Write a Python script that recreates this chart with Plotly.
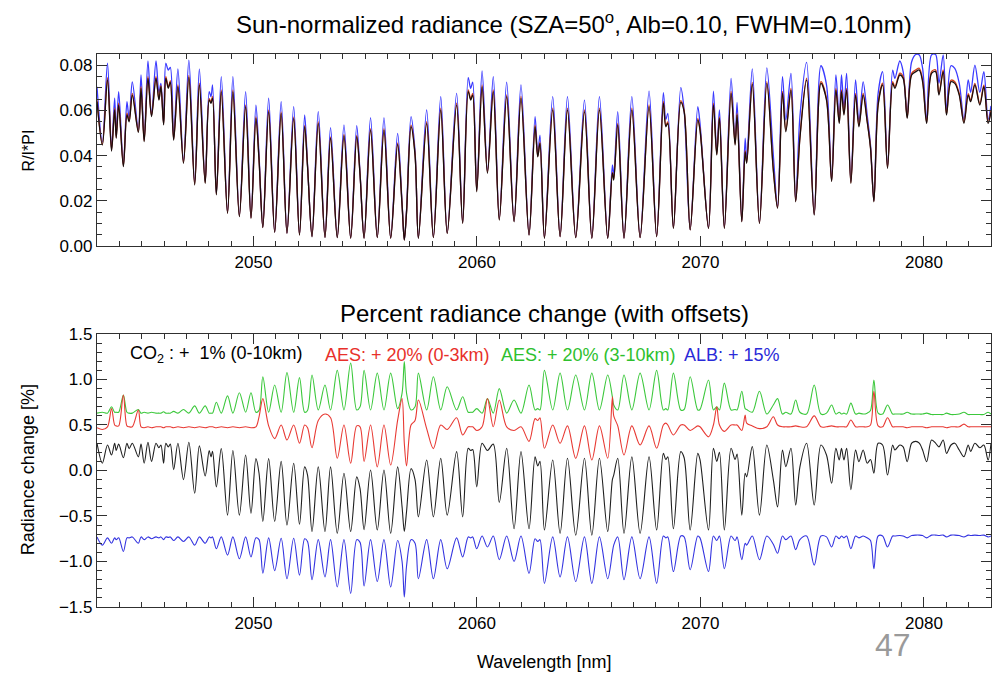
import plotly.graph_objects as go

# wavelength grid [nm], read at line centres, continuum maxima and small features
wavelength = [
    2043.00, 2043.24, 2043.47, 2043.65, 2043.79, 2043.86, 2043.97, 2044.18, 2044.34, 2044.44,
    2044.58, 2044.85, 2044.97, 2045.11, 2045.28, 2045.44, 2045.64, 2045.77, 2045.86, 2045.98,
    2046.08, 2046.19, 2046.28, 2046.43, 2046.62, 2046.87, 2047.11, 2047.37, 2047.58, 2047.84,
    2048.02, 2048.10, 2048.17, 2048.34, 2048.56, 2048.84, 2049.08, 2049.37, 2049.65, 2049.89,
    2050.11, 2050.25, 2050.42, 2050.68, 2050.95, 2051.24, 2051.50, 2051.80, 2052.06, 2052.29,
    2052.42, 2052.62, 2052.90, 2053.20, 2053.45, 2053.75, 2054.05, 2054.35, 2054.62, 2054.77,
    2054.95, 2055.24, 2055.54, 2055.84, 2056.14, 2056.45, 2056.65, 2056.75, 2056.85, 2057.05,
    2057.23, 2057.38, 2057.75, 2058.05, 2058.38, 2058.67, 2059.09, 2059.36, 2059.61, 2059.72,
    2059.81, 2059.99, 2060.23, 2060.47, 2060.73, 2061.00, 2061.33, 2061.66, 2061.97, 2062.33,
    2062.60, 2062.72, 2062.82, 2063.02, 2063.39, 2063.72, 2064.05, 2064.42, 2064.81, 2065.14,
    2065.48, 2065.85, 2066.06, 2066.12, 2066.30, 2066.58, 2066.93, 2067.30, 2067.70, 2068.04,
    2068.34, 2068.45, 2068.54, 2068.79, 2069.12, 2069.27, 2069.54, 2069.88, 2069.98, 2070.36,
    2070.58, 2070.73, 2070.85, 2071.07, 2071.37, 2071.55, 2071.64, 2071.85, 2072.00, 2072.07,
    2072.32, 2072.64, 2072.97, 2073.26, 2073.45, 2073.67, 2073.82, 2074.05, 2074.26, 2074.45,
    2074.75, 2075.09, 2075.39, 2075.64, 2075.87, 2076.06, 2076.21, 2076.31, 2076.42, 2076.54,
    2076.73, 2076.94, 2077.09, 2077.28, 2077.46, 2077.61, 2077.76, 2077.95, 2078.15, 2078.37,
    2078.60, 2078.70, 2078.92, 2079.07, 2079.25, 2079.45, 2079.64, 2079.79, 2079.94, 2080.12,
    2080.34, 2080.52, 2080.67, 2080.86, 2081.01, 2081.21, 2081.38, 2081.58, 2081.79, 2081.98,
    2082.09, 2082.28, 2082.50, 2082.68, 2082.87, 2083.00,
]

# top panel: sun-normalized radiance R/I*PI
rad_co2 = [
    .0639, .0447, .0735, .0420, .0602, .0477, .0624, .0351, .0580, .0550,
    .0668, .0503, .0698, .0462, .0742, .0573, .0742, .0646, .0705, .0536,
    .0742, .0698, .0725, .0469, .0705, .0366, .0747, .0270, .0713, .0277,
    .0646, .0632, .0654, .0226, .0683, .0144, .0683, .0130, .0617, .0122,
    .0565, .0381, .0081, .0595, .0060, .0587, .0056, .0565, .0048, .0528,
    .0351, .0041, .0543, .0037, .0477, .0037, .0488, .0034, .0484, .0314,
    .0034, .0513, .0037, .0513, .0034, .0450, .0180, .0026, .0150, .0528,
    .0403, .0034, .0543, .0037, .0602, .0056, .0624, .0100, .0683, .0646,
    .0668, .0240, .0705, .0322, .0683, .0115, .0661, .0107, .0654, .0048,
    .0528, .0395, .0454, .0034, .0602, .0041, .0602, .0037, .0595, .0034,
    .0602, .0034, .0322, .0292, .0536, .0034, .0602, .0037, .0617, .0041,
    .0632, .0528, .0543, .0078, .0636, .0595, .0071, .0558, .0513, .0078,
    .0624, .0403, .0565, .0078, .0676, .0447, .0580, .0107, .0417, .0366,
    .0716, .0100, .0720, .0336, .0167, .0676, .0506, .0690, .0196, .0477,
    .0735, .0137, .0720, .0646, .0285, .0690, .0543, .0683, .0580, .0690,
    .0277, .0668, .0528, .0668, .0550, .0432, .0196, .0624, .0713, .0344,
    .0720, .0698, .0757, .0742, .0565, .0757, .0772, .0779, .0727, .0543,
    .0764, .0772, .0668, .0772, .0580, .0727, .0720, .0668, .0543, .0668,
    .0639, .0713, .0624, .0705, .0543, .0595,
]
rad_aes = [
    .0645, .0450, .0745, .0425, .0610, .0480, .0632, .0355, .0588, .0555,
    .0676, .0507, .0706, .0466, .0750, .0577, .0750, .0650, .0710, .0540,
    .0750, .0703, .0732, .0472, .0713, .0369, .0755, .0273, .0721, .0280,
    .0652, .0637, .0662, .0229, .0691, .0146, .0691, .0132, .0625, .0124,
    .0572, .0384, .0082, .0602, .0061, .0594, .0057, .0572, .0049, .0534,
    .0354, .0042, .0550, .0038, .0483, .0038, .0494, .0035, .0490, .0317,
    .0035, .0520, .0038, .0520, .0035, .0456, .0183, .0027, .0152, .0535,
    .0408, .0035, .0550, .0038, .0610, .0057, .0632, .0101, .0691, .0652,
    .0676, .0243, .0713, .0326, .0691, .0117, .0669, .0109, .0662, .0049,
    .0535, .0398, .0460, .0035, .0610, .0042, .0610, .0038, .0603, .0035,
    .0610, .0035, .0326, .0296, .0543, .0035, .0610, .0038, .0625, .0042,
    .0640, .0533, .0549, .0079, .0644, .0600, .0072, .0565, .0518, .0079,
    .0632, .0407, .0572, .0079, .0684, .0451, .0587, .0108, .0422, .0370,
    .0724, .0101, .0728, .0340, .0169, .0684, .0512, .0698, .0198, .0482,
    .0743, .0139, .0728, .0652, .0288, .0698, .0548, .0691, .0585, .0698,
    .0280, .0676, .0533, .0676, .0555, .0436, .0198, .0630, .0721, .0347,
    .0728, .0705, .0765, .0750, .0570, .0765, .0780, .0787, .0734, .0548,
    .0772, .0780, .0674, .0780, .0585, .0734, .0727, .0674, .0548, .0675,
    .0645, .0720, .0630, .0712, .0548, .0601,
]
rad_alb = [
    .0705, .0460, .0809, .0430, .0654, .0490, .0683, .0360, .0639, .0560,
    .0727, .0515, .0757, .0470, .0819, .0580, .0819, .0680, .0720, .0545,
    .0809, .0779, .0791, .0480, .0784, .0375, .0823, .0280, .0784, .0285,
    .0683, .0661, .0713, .0232, .0750, .0148, .0750, .0134, .0683, .0126,
    .0624, .0403, .0084, .0654, .0062, .0639, .0058, .0617, .0050, .0580,
    .0360, .0043, .0595, .0039, .0524, .0039, .0536, .0036, .0533, .0322,
    .0036, .0568, .0039, .0568, .0036, .0499, .0190, .0028, .0160, .0573,
    .0420, .0036, .0602, .0039, .0661, .0058, .0676, .0103, .0745, .0698,
    .0725, .0248, .0775, .0330, .0750, .0120, .0725, .0111, .0713, .0050,
    .0573, .0405, .0491, .0036, .0661, .0043, .0661, .0039, .0646, .0036,
    .0661, .0036, .0359, .0310, .0595, .0036, .0661, .0039, .0686, .0043,
    .0679, .0560, .0587, .0080, .0701, .0602, .0073, .0617, .0543, .0080,
    .0686, .0415, .0602, .0080, .0742, .0460, .0636, .0110, .0477, .0380,
    .0784, .0103, .0789, .0403, .0172, .0750, .0558, .0764, .0200, .0573,
    .0813, .0141, .0798, .0713, .0292, .0757, .0560, .0757, .0610, .0764,
    .0285, .0735, .0550, .0727, .0580, .0447, .0200, .0676, .0772, .0352,
    .0779, .0742, .0819, .0772, .0580, .0816, .0848, .0846, .0786, .0560,
    .0846, .0848, .0720, .0846, .0600, .0798, .0786, .0720, .0560, .0735,
    .0680, .0801, .0680, .0772, .0560, .0620,
]

# bottom panel: percent radiance change (with offsets)
chg_aes_high = [
    .63, .64, .63, .70, .64, .64, .64, .83, .64, .63,
    .63, .67, .63, .64, .63, .64, .63, .63, .63, .645,
    .63, .63, .63, .65, .63, .67, .63, .71, .63, .71,
    .63, .63, .63, .75, .63, .82, .63, .855, .64, .855,
    .64, .66, 1.03, .64, .94, .64, 1.075, .64, 1.02, .64,
    .66, 1.05, .665, .94, .665, 1.10, .665, 1.18, .665, .70,
    1.10, .665, 1.07, .665, 1.07, .68, .85, 1.196, .85, .665,
    .70, 1.07, .665, 1.03, .665, .92, .665, .81, .64, .64,
    .64, .68, .63, .79, .63, .90, .63, .775, .63, .94,
    .665, .68, .665, 1.10, .665, 1.07, .665, 1.05, .665, 1.07,
    .665, 1.05, .81, .72, .665, 1.05, .665, 1.07, .665, 1.10,
    .665, .68, .665, 1.07, .665, .67, 1.03, .665, .67, .995,
    .665, .70, .665, .96, .665, .67, .665, .87, .68, .67,
    .64, .87, .62, .72, .79, .62, .64, .62, .775, .64,
    .62, .94, .62, .63, .72, .62, .64, .62, .63, .62,
    .74, .62, .63, .62, .63, .66, .995, .63, .62, .72,
    .62, .62, .62, .62, .64, .62, .62, .62, .62, .63,
    .615, .615, .615, .615, .63, .615, .615, .62, .64, .615,
    .615, .615, .615, .615, .64, .62,
]
chg_aes_low = [
    .47, .45, .48, .68, .50, .49, .49, .83, .49, .48,
    .48, .665, .48, .47, .48, .47, .48, .48, .48, .47,
    .48, .48, .48, .47, .48, .47, .48, .47, .48, .47,
    .48, .48, .48, .47, .48, .47, .48, .47, .48, .47,
    .48, .59, .79, .49, .35, .50, .335, .50, .30, .50,
    .47, .25, .55, .62, .58, .134, .50, .08, .49, .48,
    .10, .50, .04, .50, .06, .55, .79, .30, .05, .50,
    .55, .775, .46, .24, .50, .45, .58, .39, .48, .48,
    .48, .44, .48, .79, .48, .775, .48, .44, .48, .32,
    .57, .55, .58, .244, .50, .30, .49, .134, .49, .115,
    .49, .134, .81, .60, .49, .17, .49, .28, .49, .244,
    .50, .52, .50, .39, .50, .50, .44, .49, .48, .37,
    .50, .70, .50, .43, .50, .50, .50, .44, .61, .52,
    .49, .46, .48, .59, .50, .48, .48, .48, .49, .48,
    .48, .60, .48, .48, .49, .48, .48, .48, .48, .48,
    .555, .48, .48, .48, .48, .50, .87, .49, .48, .58,
    .48, .48, .48, .48, .47, .48, .48, .48, .48, .47,
    .48, .48, .48, .48, .47, .48, .48, .48, .51, .48,
    .48, .48, .48, .48, .48, .48,
]
chg_co2 = [
    .30, .08, .28, .17, .30, .22, .29, .14, .30, .24,
    .30, .15, .29, .08, .31, .10, .30, .25, .28, .08,
    .30, .26, .29, .01, .30, -.10, .31, -.25, .27, -.06,
    .22, .15, .21, -.18, .24, -.49, .22, -.49, .17, -.47,
    .13, -.03, -.56, .13, -.56, .10, -.60, .08, -.59, .04,
    -.05, -.67, .04, -.67, .04, -.69, -.03, -.67, -.07, -.20,
    -.65, .005, -.654, .005, -.69, .04, -.40, -.67, -.45, .02,
    -.10, -.51, .116, -.51, .134, -.49, .207, -.51, .244, .22,
    .23, -.18, .30, .22, .29, -.35, .244, -.64, .207, -.64,
    .15, .05, .10, -.654, .115, -.69, .134, -.71, .134, -.71,
    .134, -.67, -.10, -.05, .134, -.69, .15, -.69, .15, -.654,
    .188, .12, .15, -.64, .207, .14, -.654, .188, .12, -.654,
    .244, .10, .20, -.654, .244, .12, .18, -.49, -.03, -.07,
    .262, -.49, .28, -.10, -.40, .225, .042, .244, -.38, .04,
    .30, -.38, .28, .17, -.14, .244, .115, .244, .115, .244,
    -.21, .225, .097, .225, .08, .12, -.03, .30, .28, -.05,
    .28, .225, .28, .26, .097, .30, .32, .30, .225, .097,
    .335, .30, .26, .335, .188, .28, .30, .225, .152, .28,
    .21, .30, .25, .28, .115, .30,
]
chg_alb = [
    -.73, -.82, -.74, -.80, -.74, -.76, -.74, -.89, -.74, -.74,
    -.73, -.80, -.73, -.76, -.73, -.75, -.73, -.74, -.73, -.76,
    -.73, -.735, -.73, -.77, -.73, -.78, -.73, -.82, -.73, -.80,
    -.73, -.74, -.73, -.86, -.73, -.93, -.73, -.97, -.73, -.95,
    -.74, -.76, -1.13, -.74, -1.10, -.745, -1.19, -.745, -1.15, -.75,
    -.78, -1.20, -.76, -1.17, -.76, -1.28, -.76, -1.35, -.76, -.79,
    -1.27, -.76, -1.22, -.76, -1.28, -.77, -1.00, -1.39, -1.05, -.76,
    -.80, -1.19, -.76, -1.19, -.76, -1.08, -.74, -.95, -.73, -.74,
    -.73, -.86, -.72, -.84, -.72, -.98, -.72, -1.00, -.72, -1.13,
    -.75, -.78, -.76, -1.24, -.73, -1.17, -.73, -1.22, -.73, -1.24,
    -.73, -1.19, -.90, -.82, -.73, -1.20, -.73, -1.19, -.73, -1.24,
    -.72, -.74, -.73, -1.11, -.72, -.73, -1.09, -.72, -.74, -1.11,
    -.72, -.77, -.72, -1.08, -.72, -.77, -.73, -.98, -.80, -.82,
    -.72, -.98, -.72, -.81, -.91, -.72, -.76, -.72, -.87, -.76,
    -.72, -1.04, -.72, -.73, -.84, -.72, -.75, -.72, -.74, -.72,
    -.86, -.72, -.74, -.72, -.74, -.77, -1.08, -.72, -.72, -.84,
    -.72, -.72, -.715, -.72, -.74, -.715, -.71, -.71, -.715, -.74,
    -.71, -.71, -.715, -.71, -.73, -.71, -.71, -.715, -.73, -.71,
    -.715, -.71, -.715, -.71, -.73, -.72,
]

FONT = "Liberation Sans, Arial, sans-serif"

fig = go.Figure()

# top panel (blue under red under black, as in the original)
for ys, col in [(rad_alb, "#3a3aff"), (rad_aes, "#d2401a"), (rad_co2, "#1a0d0d")]:
    fig.add_trace(go.Scatter(x=wavelength, y=ys, mode="lines", xaxis="x", yaxis="y",
                             line=dict(color=col, width=1.3, shape="spline", smoothing=0.9),
                             showlegend=False, hoverinfo="skip"))

# bottom panel
for ys, col in [(chg_aes_high, "#3cc83c"), (chg_aes_low, "#e83a34"),
                (chg_co2, "#202020"), (chg_alb, "#3434e0")]:
    fig.add_trace(go.Scatter(x=wavelength, y=ys, mode="lines", xaxis="x2", yaxis="y2",
                             line=dict(color=col, width=1.1, shape="spline", smoothing=0.9),
                             showlegend=False, hoverinfo="skip"))

axis_common = dict(
    showline=True, linecolor="#303030", linewidth=1.2, mirror="ticks",
    ticks="inside", ticklen=10, tickcolor="#303030", tickwidth=1,
    showgrid=False, zeroline=False,
    tickfont=dict(family=FONT, size=17, color="black"),
)
minor_x = dict(dtick=1, ticklen=5, ticks="inside", tickcolor="#303030")

# the page puts the figure 8px in from the top-left corner, margins allow for it
fig.update_layout(
    width=1005, height=675,
    margin=dict(l=89, r=22, t=46, b=76),
    paper_bgcolor="white", plot_bgcolor="white",
    showlegend=False,
    xaxis=dict(axis_common, domain=[0, 1], range=[2043, 2083], dtick=10, anchor="y",
               minor=minor_x),
    yaxis=dict(axis_common, domain=[0.6528, 1], range=[0, 0.085], dtick=0.02,
               tickformat=".2f", anchor="x",
               minor=dict(dtick=0.005, ticklen=5, ticks="inside", tickcolor="#303030")),
    xaxis2=dict(axis_common, domain=[0, 1], range=[2043, 2083], dtick=10, anchor="y2",
                minor=minor_x),
    yaxis2=dict(axis_common, domain=[0, 0.4937], range=[-1.5, 1.5], dtick=0.5,
                tickformat=".1f", anchor="x2",
                minor=dict(dtick=0.1, ticklen=5, ticks="inside", tickcolor="#303030")),
)

ann = []
# panel titles
ann.append(dict(text="Sun-normalized radiance (SZA=50<sup style='font-size:70%'>o</sup>, Alb=0.10, FWHM=0.10nm)",
                x=0.533, y=1.056, xref="paper", yref="paper", showarrow=False,
                xanchor="center", yanchor="middle", font=dict(family=FONT, size=24, color="black")))
ann.append(dict(text="Percent radiance change (with offsets)",
                x=0.5, y=0.5316, xref="paper", yref="paper", showarrow=False,
                xanchor="center", yanchor="middle", font=dict(family=FONT, size=24, color="black")))
# axis titles
ann.append(dict(text="R/I*PI", x=-0.077, y=0.826, xref="paper", yref="paper", showarrow=False,
                textangle=-90, xanchor="center", yanchor="middle",
                font=dict(family=FONT, size=16, color="black")))
ann.append(dict(text="Radiance change [%]", x=-0.077, y=0.2477, xref="paper", yref="paper",
                showarrow=False, textangle=-90, xanchor="center", yanchor="middle",
                font=dict(family=FONT, size=18, color="black")))
ann.append(dict(text="Wavelength [nm]", x=0.5, y=-0.0995, xref="paper", yref="paper",
                showarrow=False, xanchor="center", yanchor="middle",
                font=dict(family=FONT, size=18, color="black")))
# in-panel labels
labels = [
    ("CO<sub>2</sub> :\u00a0+\u00a0\u00a01% (0-10km)", 0.0347, "black"),
    ("AES: + 20% (0-3km)", 0.2528, "#e8302a"),
    ("AES: + 20% (3-10km)", 0.4497, "#2ec02e"),
    ("ALB: + 15%", 0.6544, "#2a2ad8"),
]
for txt, xp, col in labels:
    ann.append(dict(text=txt, x=xp, y=0.4557, xref="paper", yref="paper", showarrow=False,
                    xanchor="left", yanchor="middle", font=dict(family=FONT, size=18, color=col)))
# slide page number
ann.append(dict(text="47", x=0.89, y=-0.069, xref="paper", yref="paper", showarrow=False,
                xanchor="center", yanchor="middle", font=dict(family=FONT, size=32, color="#9a9a9a")))

fig.update_layout(annotations=ann)

fig.write_html("out.html")
